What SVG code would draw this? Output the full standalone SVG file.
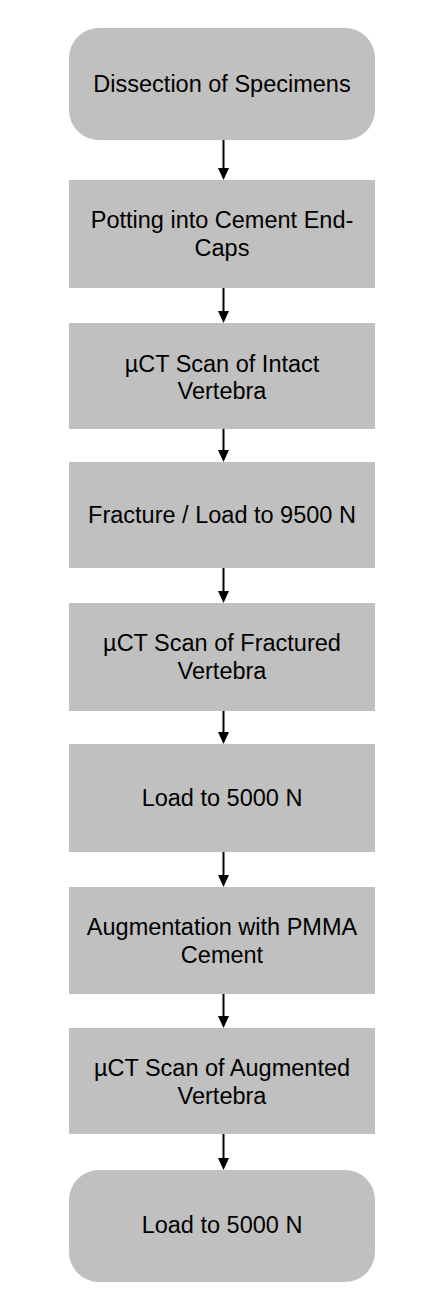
<svg xmlns="http://www.w3.org/2000/svg" width="444" height="1312" viewBox="0 0 444 1312">
<defs>
<style>
.box{fill:#c0c0c0;stroke:none}
.lbl{font-family:"Liberation Sans",Arial,Helvetica,sans-serif;font-size:23.5px;fill:#000;text-anchor:middle}
.con{stroke:#000;stroke-width:2;fill:none}
.head{fill:#000}
</style>
</defs>
<rect width="444" height="1312" fill="#fff"/>
<g id="connectors">
<line class="con" x1="223.5" y1="140" x2="223.5" y2="169"/><polygon class="head" points="218,168 229,168 223.5,180"/>
<line class="con" x1="223.5" y1="288" x2="223.5" y2="312"/><polygon class="head" points="218,311 229,311 223.5,323"/>
<line class="con" x1="223.5" y1="429" x2="223.5" y2="451"/><polygon class="head" points="218,450 229,450 223.5,462"/>
<line class="con" x1="223.5" y1="568" x2="223.5" y2="592"/><polygon class="head" points="218,591 229,591 223.5,603"/>
<line class="con" x1="223.5" y1="711" x2="223.5" y2="733"/><polygon class="head" points="218,732 229,732 223.5,744"/>
<line class="con" x1="223.5" y1="852" x2="223.5" y2="876"/><polygon class="head" points="218,875 229,875 223.5,887"/>
<line class="con" x1="223.5" y1="994" x2="223.5" y2="1017"/><polygon class="head" points="218,1016 229,1016 223.5,1028"/>
<line class="con" x1="223.5" y1="1134" x2="223.5" y2="1159"/><polygon class="head" points="218,1158 229,1158 223.5,1170"/>
</g>
<g id="n1"><rect class="box" x="69" y="28" width="306" height="112" rx="30" ry="30"/><text class="lbl" x="222" y="92">Dissection of Specimens</text></g>
<g id="n2"><rect class="box" x="69" y="180" width="306" height="108"/><text class="lbl" x="222" y="228">Potting into Cement End-</text><text class="lbl" x="222" y="256">Caps</text></g>
<g id="n3"><rect class="box" x="69" y="323" width="306" height="106"/><text class="lbl" x="222" y="372">µCT Scan of Intact</text><text class="lbl" x="222" y="399">Vertebra</text></g>
<g id="n4"><rect class="box" x="69" y="462" width="306" height="106"/><text class="lbl" x="222" y="523">Fracture / Load to 9500 N</text></g>
<g id="n5"><rect class="box" x="69" y="603" width="306" height="108"/><text class="lbl" x="222" y="651">µCT Scan of Fractured</text><text class="lbl" x="222" y="679">Vertebra</text></g>
<g id="n6"><rect class="box" x="69" y="744" width="306" height="108"/><text class="lbl" x="222" y="806">Load to 5000 N</text></g>
<g id="n7"><rect class="box" x="69" y="887" width="306" height="107"/><text class="lbl" x="222" y="935">Augmentation with PMMA</text><text class="lbl" x="222" y="963">Cement</text></g>
<g id="n8"><rect class="box" x="69" y="1028" width="306" height="106"/><text class="lbl" x="222" y="1076">µCT Scan of Augmented</text><text class="lbl" x="222" y="1104">Vertebra</text></g>
<g id="n9"><rect class="box" x="69" y="1170" width="306" height="112" rx="30" ry="30"/><text class="lbl" x="222" y="1233">Load to 5000 N</text></g>
</svg>
